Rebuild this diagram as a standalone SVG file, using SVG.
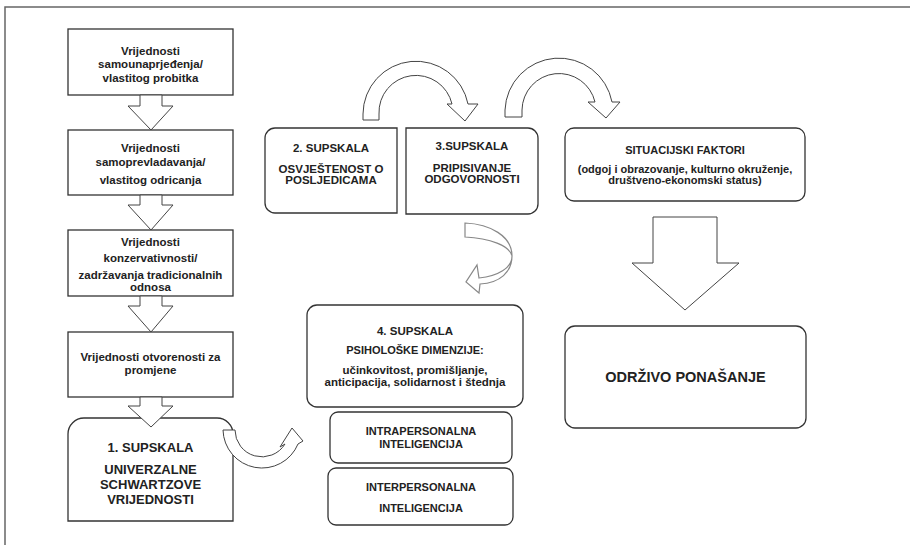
<svg xmlns="http://www.w3.org/2000/svg" width="910" height="545" viewBox="0 0 910 545">
<style>
.box{fill:#fff;stroke:#333;stroke-width:1.3}
.arr{fill:#fff;stroke:#444;stroke-width:1}
.garr{fill:#fff;stroke:#888;stroke-width:1.2}
text{font-family:"Liberation Sans",Arial,sans-serif;font-weight:bold;fill:#222;text-anchor:middle}
.s{font-size:11.5px}
.m{font-size:11px}
.c{font-size:11.5px}
.l{font-size:13px}
.xl{font-size:14.5px}
</style>
<rect width="910" height="545" fill="#fff"/>
<path d="M5,545 L5,7 L910,7" fill="none" stroke="#666" stroke-width="1.5"/>

<g id="n1"><rect class="box" x="68" y="29" width="165" height="66"/>
<text class="s" x="150.5" y="54.5">Vrijednosti</text><text class="s" x="150.5" y="68">samounaprjeđenja/</text><text class="s" x="150.5" y="81.5">vlastitog probitka</text></g>
<g id="n2"><rect class="box" x="68" y="130" width="165" height="65"/>
<text class="s" x="150.5" y="152">Vrijednosti</text><text class="s" x="150.5" y="166">samoprevladavanja/</text><text class="s" x="150.5" y="184">vlastitog odricanja</text></g>
<g id="n3"><rect class="box" x="68" y="230" width="165" height="66"/>
<text class="s" x="150.5" y="246">Vrijednosti</text><text class="s" x="150.5" y="262">konzervativnosti/</text><text class="s" x="150.5" y="279">zadržavanja tradicionalnih</text><text class="s" x="150.5" y="291">odnosa</text></g>
<g id="n4"><rect class="box" x="68" y="332" width="165" height="65"/>
<text class="s" x="150.5" y="361">Vrijednosti otvorenosti za</text><text class="s" x="150.5" y="374">promjene</text></g>
<g id="n5"><path class="box" d="M68,521 L68,434 A16,16 0 0 1 84,418 L217,418 A16,16 0 0 1 233,434 L233,521 Z"/>
<text class="l" x="150.5" y="451.5">1. SUPSKALA</text><text class="l" x="150.5" y="474">UNIVERZALNE</text><text class="l" x="150.5" y="489">SCHWARTZOVE</text><text class="l" x="150.5" y="504">VRIJEDNOSTI</text></g>

<g id="n6"><path class="box" d="M397,128 L397,213 L275,213 A10,10 0 0 1 265,203 L265,138 A10,10 0 0 1 275,128 Z"/>
<text class="c" x="331" y="151.5">2. SUPSKALA</text><text class="c" x="331" y="173">OSVJEŠTENOST O</text><text class="c" x="331" y="184">POSLJEDICAMA</text></g>
<g id="n7"><path class="box" d="M406,128 L528,128 A10,10 0 0 1 538,138 L538,204 A10,10 0 0 1 528,214 L406,214 Z"/>
<text class="c" x="472" y="150">3.SUPSKALA</text><text class="c" x="472" y="171.5">PRIPISIVANJE</text><text class="c" x="472" y="183">ODGOVORNOSTI</text></g>
<g id="n8"><rect class="box" x="565" y="128" width="240" height="73" rx="9"/>
<text class="m" x="685" y="154">SITUACIJSKI FAKTORI</text><text class="m" x="685" y="172.5">(odgoj i obrazovanje,  kulturno okruženje,</text><text class="m" x="685" y="183.5">društveno-ekonomski status)</text></g>
<g id="n9"><rect class="box" x="307" y="305" width="216" height="102" rx="10"/>
<text class="c" x="415" y="335">4. SUPSKALA</text><text class="m" x="415" y="354">PSIHOLOŠKE DIMENZIJE:</text><text class="c" x="415" y="374">učinkovitost, promišljanje,</text><text class="c" x="415" y="386">anticipacija, solidarnost i štednja</text></g>
<g id="n10"><rect class="box" x="330" y="412" width="182" height="51" rx="8"/>
<text class="m" x="421" y="435">INTRAPERSONALNA</text><text class="m" x="421" y="448">INTELIGENCIJA</text></g>
<g id="n11"><rect class="box" x="328" y="468" width="185" height="57" rx="8"/>
<text class="m" x="421" y="491">INTERPERSONALNA</text><text class="m" x="421" y="512">INTELIGENCIJA</text></g>
<g id="n12"><rect class="box" x="565" y="326" width="241" height="102" rx="10"/>
<text class="xl" x="685.5" y="382">ODRŽIVO PONAŠANJE</text></g>

<g id="connectors">
<path class="arr" d="M140,95 L162,95 L162,106 L173,106 L151,130 L128,106 L140,106 Z"/>
<path class="arr" d="M140,195 L162,195 L162,205 L173,205 L151,230 L128,205 L140,205 Z"/>
<path class="arr" d="M140,296 L162,296 L162,306 L173,306 L151,332 L128,306 L140,306 Z"/>
<path class="arr" d="M140,397 L162,397 L162,406 L173,406 L151,427 L128,406 L140,406 Z"/>
<path class="arr" d="M223,430 L235,430 A27,27 0 0 0 285,444 L280,447 L292,428 L303,441 L298,444 A39,39 0 0 1 223,430 Z"/>
<path class="arr" d="M363,120 L379,120 L379,114 A37,37 0 0 1 452,104 L447,104 L465,121 L478,104 L468,104 A53,53 0 0 0 363,114 Z"/>
<path class="arr" d="M505,117 L522,117 L522,110 A37,37 0 0 1 595,102 L588,102 L606,118 L620,102 L612,102 A54,54 0 0 0 505,110 Z"/>
<path class="garr" d="M465,223 C490,224 512,236 512,256 C512,268 498,276 479,278 L477,265 L466,282 L479,293 L480,284 C500,283 512,272 512,256 C510,246 490,238 465,237 Z"/>
<path class="arr" d="M653,217 L717,217 L717,263 L739,263 L685,310 L632,263 L653,263 Z"/>
</g>
</svg>
